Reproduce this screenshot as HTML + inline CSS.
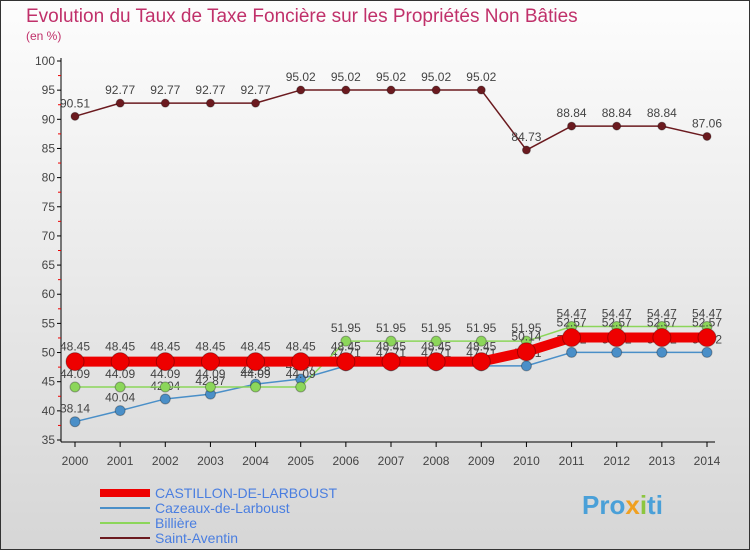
<!DOCTYPE html>
<html><head><meta charset="utf-8"><style>
body{margin:0}
svg{display:block;font-family:"Liberation Sans",sans-serif}
</style></head><body>
<svg id="c" width="750" height="550" viewBox="0 0 750 550">
<defs><linearGradient id="bg" x1="0" y1="0" x2="0" y2="1"><stop offset="0" stop-color="#fdfdfd"/><stop offset="1" stop-color="#d6d6d6"/></linearGradient></defs>
<rect x="0.5" y="0.5" width="749" height="549" fill="url(#bg)" stroke="#333"/>
<text x="26" y="22" font-size="19" fill="#c0306a">Evolution du Taux de Taxe Foncière sur les Propriétés Non Bâties</text>
<text x="26" y="40" font-size="12" fill="#c0306a">(en %)</text>
<g id="axes"></g><g id="series"></g><g id="legend"></g>
<text x="582" y="514" font-size="26" font-weight="bold" fill="#4aa0d8">Pro<tspan fill="#f0a020">x</tspan><tspan fill="#8cc63f">i</tspan>ti</text>
</svg>
<script>
const years=[2000,2001,2002,2003,2004,2005,2006,2007,2008,2009,2010,2011,2012,2013,2014];
const castillon=[48.45,48.45,48.45,48.45,48.45,48.45,48.45,48.45,48.45,48.45,50.14,52.57,52.57,52.57,52.57];
const cazeaux=[38.14,40.04,42.04,42.87,44.58,45.47,47.71,47.71,47.71,47.71,47.71,50.02,50.02,50.02,50.02];
const billiere=[44.09,44.09,44.09,44.09,44.09,44.09,51.95,51.95,51.95,51.95,51.95,54.47,54.47,54.47,54.47];
const saint=[90.51,92.77,92.77,92.77,92.77,95.02,95.02,95.02,95.02,95.02,84.73,88.84,88.84,88.84,87.06];
const yTicks=[35,40,45,50,55,60,65,70,75,80,85,90,95,100];
const seriesNames=["CASTILLON-DE-LARBOUST","Cazeaux-de-Larboust","Billière","Saint-Aventin"];
const NS="http://www.w3.org/2000/svg";
const x=i=>75+i*(707-75)/(years.length-1);
const y=v=>440-(v-35)*(440-61)/65;
function mk(tag,attrs,parent,txt){const e=document.createElementNS(NS,tag);for(const k in attrs)e.setAttribute(k,attrs[k]);if(txt!==undefined)e.textContent=txt;parent.appendChild(e);return e;}
const ax=document.getElementById('axes');
let e=mk('line',{x1:61,y1:58,x2:61,y2:442,stroke:'#000'},ax);


e=mk('line',{x1:61,y1:442,x2:715,y2:442,stroke:'#000'},ax);


yTicks.forEach(t=>{
 mk('line',{x1:57,y1:y(t),x2:61,y2:y(t),stroke:'#000'},ax);
 if(t<100)mk('line',{x1:58,y1:y(t+2.5),x2:61,y2:y(t+2.5),stroke:'#e00'},ax);
 const l=mk('text',{x:55,y:y(t)+4,'font-size':12,'text-anchor':'end',fill:'#444'},ax,t);
 
 
});
years.forEach((yr,i)=>{
 mk('line',{x1:x(i),y1:442,x2:x(i),y2:447,stroke:'#000'},ax);
 const l=mk('text',{x:x(i),y:465,'font-size':12,'text-anchor':'middle',fill:'#444'},ax,yr);
 
 
});
const sg=document.getElementById('series');
function draw(data,color,width,r,name,dy){
 const g=mk('g',{},sg);
 
 
 mk('polyline',{points:data.map((v,i)=>x(i)+','+y(v)).join(' '),fill:'none',stroke:color,'stroke-width':width,'stroke-linejoin':'round'},g);
 data.forEach((v,i)=>{
  const c=mk('circle',{cx:x(i),cy:y(v),r:r,fill:color,stroke:'rgba(0,0,0,0.3)','stroke-width':1},g);
  
  
  const t=mk('text',{x:x(i),y:y(v)+dy,'font-size':12,'text-anchor':'middle',fill:'#444'},g,v.toFixed(2).replace(/0$/,v.toFixed(2).endsWith('0')?'0':''));
  
  
 });
}
draw(saint,'#6b1a1f',1.5,4,'series-saint-aventin',-9);
draw(cazeaux,'#4a8fc8',1.5,5,'series-cazeaux',-9);
draw(billiere,'#8cd65a',1.5,5,'series-billiere',-9);
draw(castillon,'#ee0000',10,9,'series-castillon',-11);
const lg=document.getElementById('legend');
const cols=['#ee0000','#4a8fc8','#8cd65a','#6b1a1f'],ws=[8,2,2,2];
seriesNames.forEach((n,i)=>{
 const g=mk('g',{},lg);
 
 
 mk('line',{x1:100,y1:493+i*15,x2:150,y2:493+i*15,stroke:cols[i],'stroke-width':ws[i]},g);
 mk('text',{x:155,y:498+i*15,'font-size':14,fill:'#4a7ee0'},g,n);
});
</script>
</body></html>
